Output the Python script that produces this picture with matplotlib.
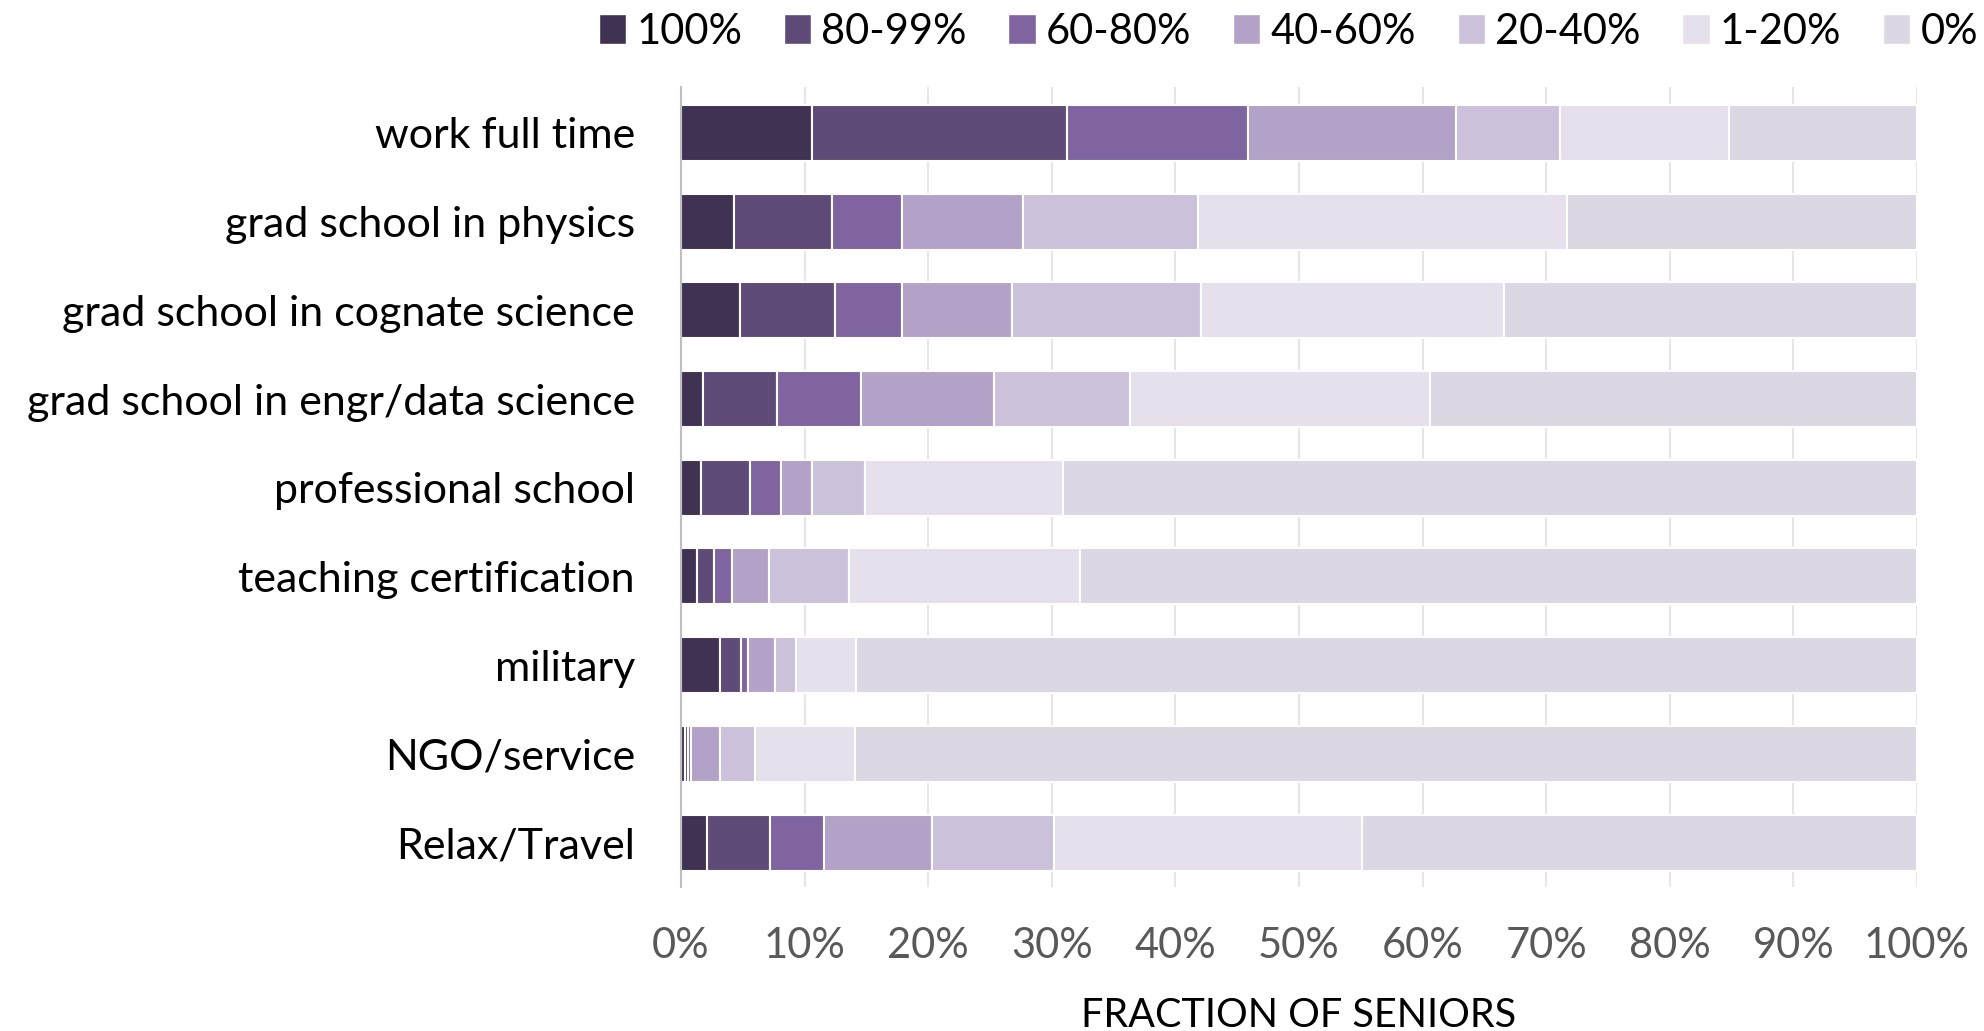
import numpy as np
import matplotlib
matplotlib.use('Agg')
import matplotlib.pyplot as plt
from matplotlib.patches import Patch

plt.rcParams['font.family'] = ['Lato', 'DejaVu Sans']

categories = ['work full time', 'grad school in physics', 'grad school in cognate science',
              'grad school in engr/data science', 'professional school', 'teaching certification',
              'military', 'NGO/service', 'Relax/Travel']
levels = ['100%', '80-99%', '60-80%', '40-60%', '20-40%', '1-20%', '0%']

# percent of seniors per category, one list per level
pct_100 = [10.6, 4.3, 4.8, 1.8, 1.6, 1.3, 3.2, 0.3, 2.1]
pct_80_99 = [20.6, 7.9, 7.7, 6.0, 4.0, 1.4, 1.7, 0.3, 5.1]
pct_60_80 = [14.7, 5.7, 5.4, 6.8, 2.5, 1.4, 0.5, 0.2, 4.4]
pct_40_60 = [16.8, 9.8, 8.9, 10.7, 2.5, 3.0, 2.2, 2.4, 8.7]
pct_20_40 = [8.4, 14.1, 15.3, 11.0, 4.3, 6.5, 1.7, 2.8, 9.9]
pct_1_20 = [13.7, 29.9, 24.5, 24.3, 16.0, 18.7, 4.9, 8.1, 24.9]
pct_0 = [15.2, 28.3, 33.4, 39.4, 69.1, 67.7, 85.8, 85.9, 44.9]

series = [pct_100, pct_80_99, pct_60_80, pct_40_60, pct_20_40, pct_1_20, pct_0]
colors = ['#3f3252', '#5e4b78', '#8064a0', '#b2a2c7', '#cbc1da', '#e5e0ec', '#dbd8e3']

fig = plt.figure(figsize=(19.84, 10.31), dpi=100)
ax = fig.add_axes([0.3432, 0.1397, 0.623, 0.7762])

y_pos = np.arange(len(categories))
left = np.zeros(len(categories))
for vals, col in zip(series, colors):
    ax.barh(y_pos, vals, left=left, color=col, edgecolor='white', linewidth=1.5,
            height=0.63, zorder=2)
    left += np.array(vals)

ax.set_ylim(len(categories) - 0.5, -0.52)
ax.set_xlim(0, 100)
ax.set_yticks(y_pos)
ax.set_yticklabels(categories, fontsize=31)
ax.set_xticks(np.arange(0, 101, 10))
ax.set_xticklabels([f'{t}%' for t in range(0, 101, 10)], fontsize=30, color='#595959')
ax.tick_params(axis='x', length=0, pad=29)
ax.tick_params(axis='y', length=0, pad=33)
ax.set_xlabel('FRACTION OF SENIORS', fontsize=28.5, labelpad=23)

for side in ['top', 'right', 'bottom']:
    ax.spines[side].set_visible(False)
ax.spines['left'].set_color('#bfbfbf')
ax.spines['left'].set_linewidth(1.5)
ax.grid(axis='x', color='#e6e6e6', linewidth=1.5, zorder=0)
ax.set_axisbelow(True)

handles = [Patch(facecolor=c, edgecolor='white', label=l) for c, l in zip(colors, levels)]
fig.legend(handles=handles, ncol=7, loc='upper right', bbox_to_anchor=(1.016, 1.024),
           frameon=False, fontsize=30, handlelength=0.65, handleheight=0.75,
           handletextpad=0.25, columnspacing=1.0)

plt.savefig('out.png', dpi=100, facecolor='white')
plt.close(fig)
